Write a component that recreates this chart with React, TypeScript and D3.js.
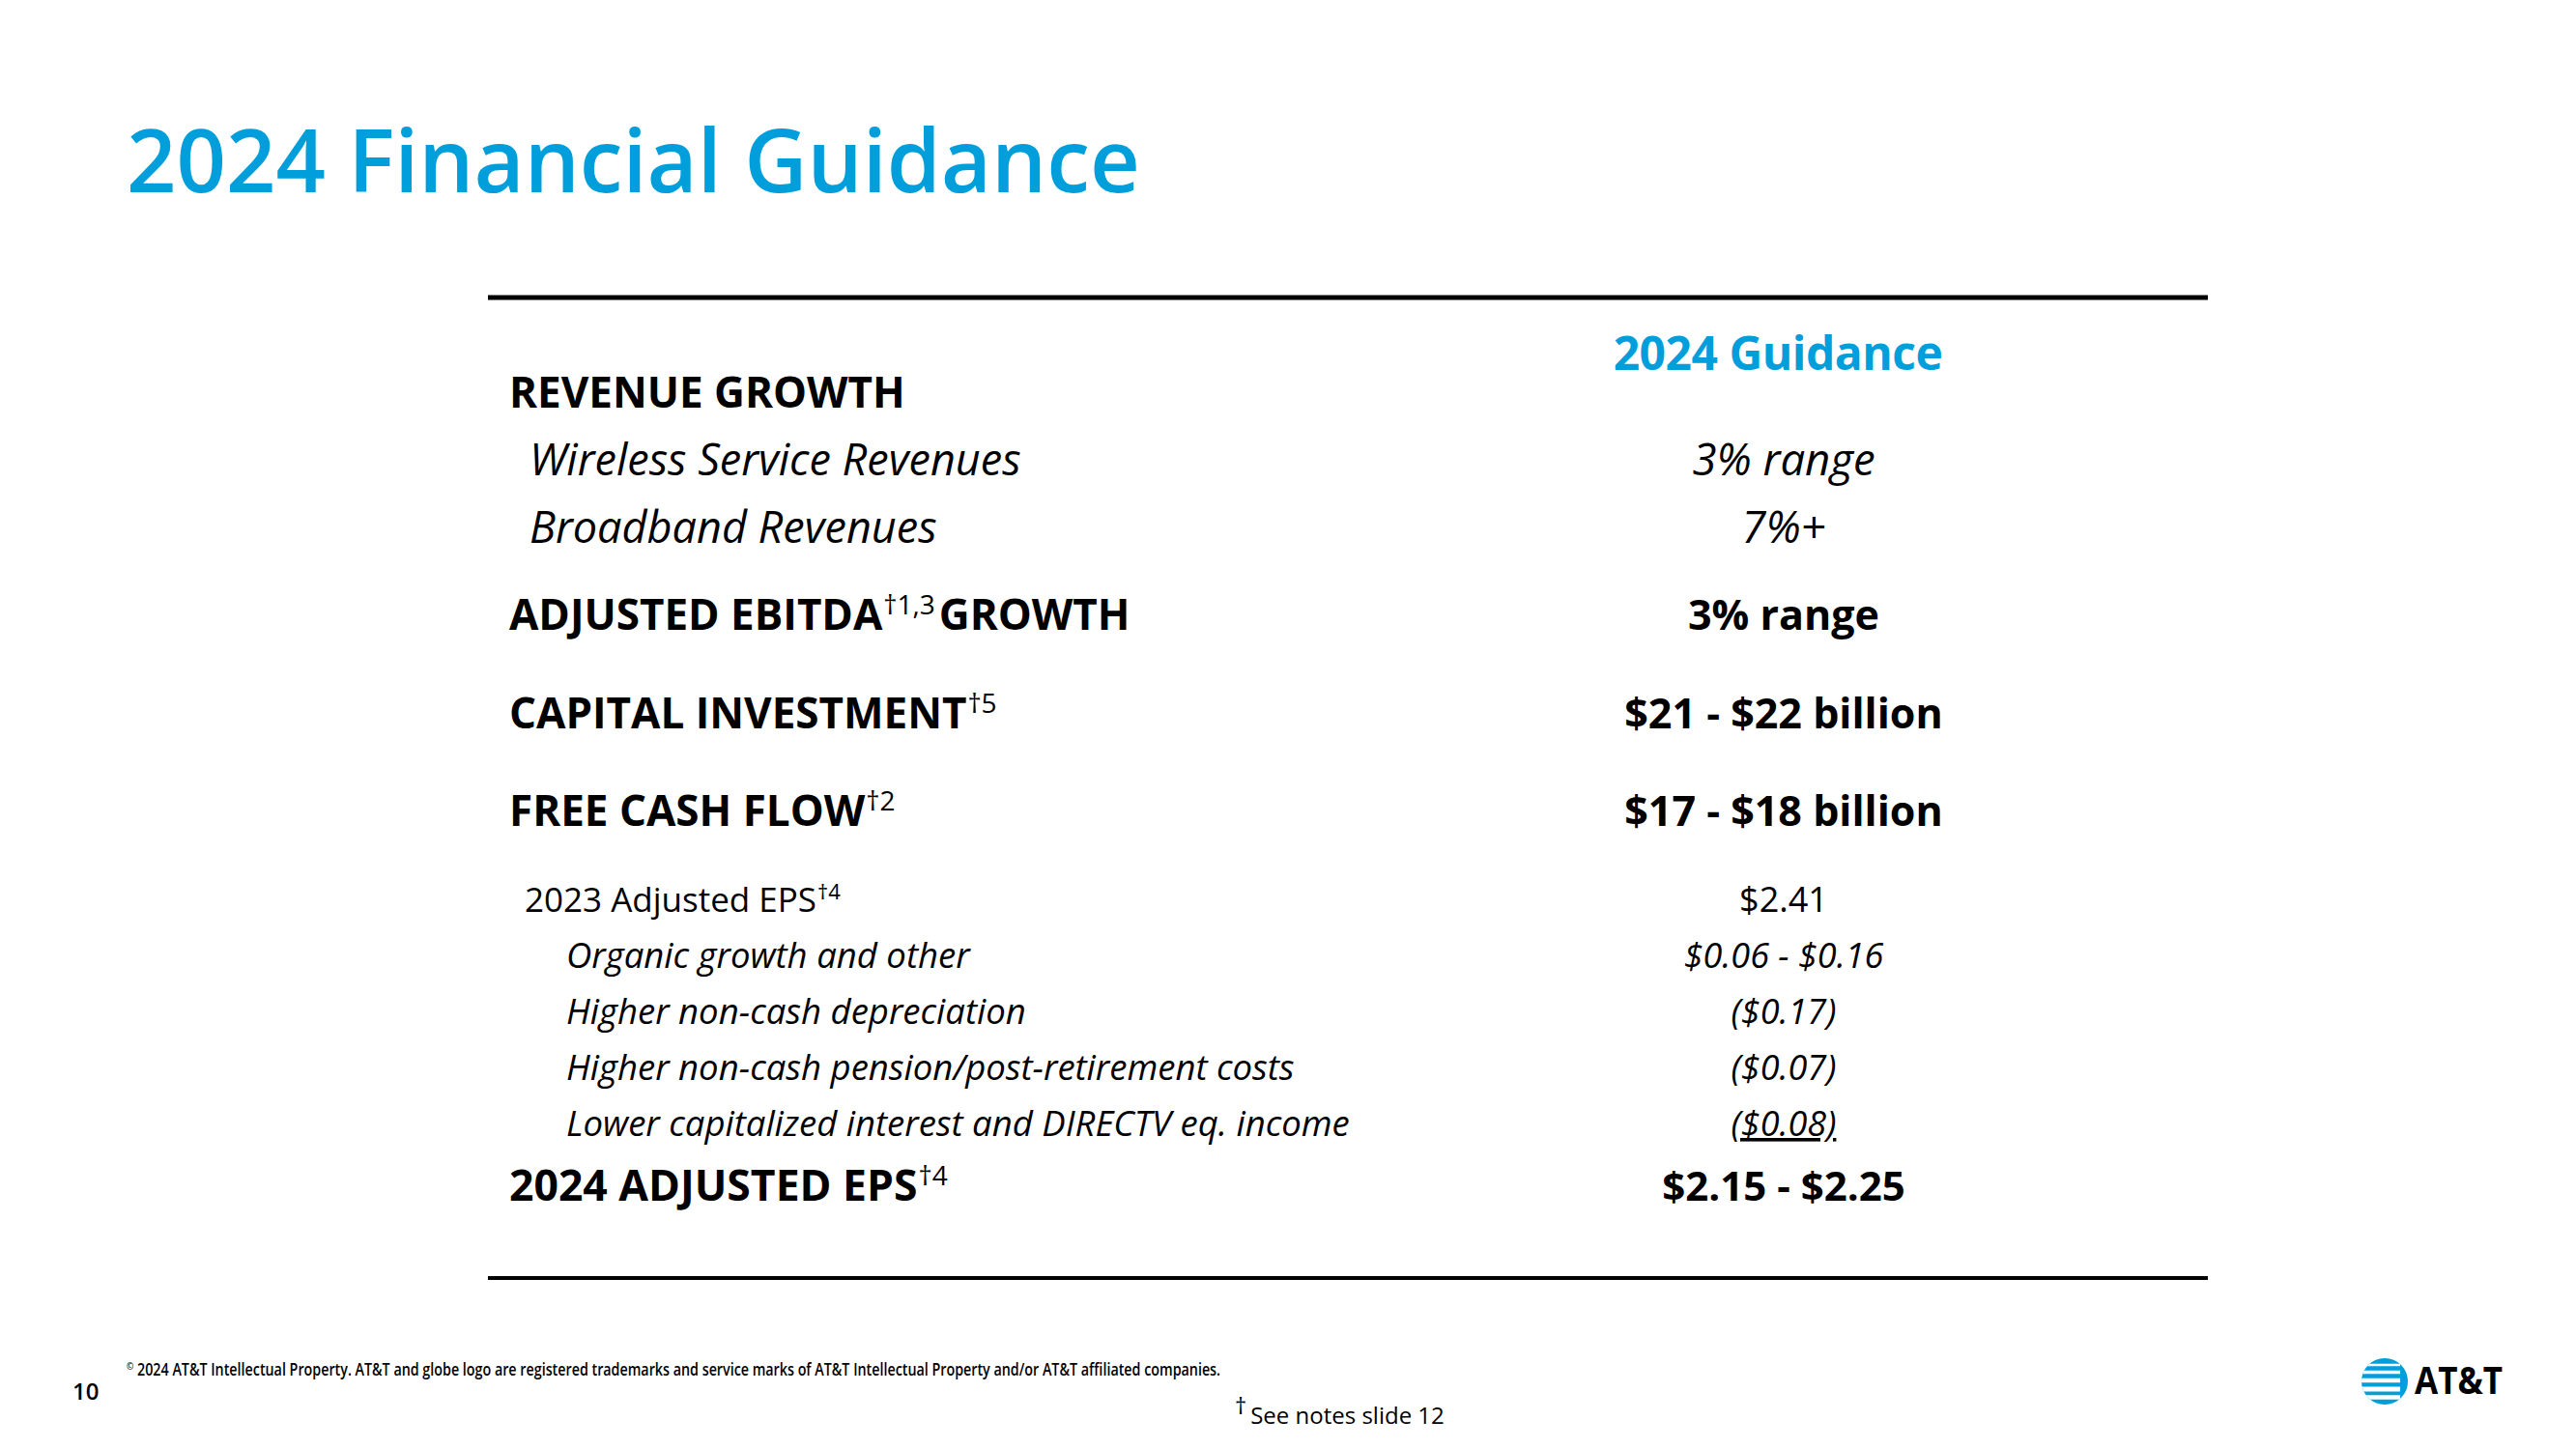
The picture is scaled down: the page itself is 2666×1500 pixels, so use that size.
import React from "react";
import * as d3 from "d3";

// ---------- data ----------
const pageTitle = "2024 Financial Guidance";
const columnHeader = "2024 Guidance";

const rowLabels = [
  "REVENUE GROWTH",
  "Wireless Service Revenues",
  "Broadband Revenues",
  "ADJUSTED EBITDA",
  "CAPITAL INVESTMENT",
  "FREE CASH FLOW",
  "2023 Adjusted EPS",
  "Organic growth and other",
  "Higher non-cash depreciation",
  "Higher non-cash pension/post-retirement costs",
  "Lower capitalized interest and DIRECTV eq. income",
  "2024 ADJUSTED EPS",
];
const rowNotes = ["", "", "", "†1,3", "†5", "†2", "†4", "", "", "", "", "†4"];
const rowSuffixes = ["", "", "", "GROWTH", "", "", "", "", "", "", "", ""];
const rowKinds = [
  "section",
  "sub",
  "sub",
  "section",
  "section",
  "section",
  "epsBase",
  "epsItem",
  "epsItem",
  "epsItem",
  "epsItem",
  "total",
];
const guidanceValues = [
  "",
  "3% range",
  "7%+",
  "3% range",
  "$21 - $22 billion",
  "$17 - $18 billion",
  "$2.41",
  "$0.06 - $0.16",
  "($0.17)",
  "($0.07)",
  "($0.08)",
  "$2.15 - $2.25",
];

const copyrightText =
  " 2024 AT&T Intellectual Property. AT&T and globe logo are registered trademarks and service marks of AT&T Intellectual Property and/or AT&T affiliated companies.";
const notesText = "See notes slide 12";
const pageNumber = "10";
const brandName = "AT&T";

// ---------- styling / layout ----------
const W = 2666;
const H = 1500;
const BLUE = "#009FDB";
const FONT = "'Open Sans', 'Noto Sans', sans-serif";

const kindStyle: Record<
  string,
  { x: number; size: number; weight: number; italic: boolean; vSize: number; vWeight: number }
> = {
  section: { x: 527, size: 44, weight: 700, italic: false, vSize: 43, vWeight: 700 },
  sub: { x: 548, size: 45, weight: 400, italic: true, vSize: 45.5, vWeight: 400 },
  epsBase: { x: 543, size: 35, weight: 400, italic: false, vSize: 36, vWeight: 400 },
  epsItem: { x: 586, size: 36.5, weight: 400, italic: true, vSize: 36, vWeight: 400 },
  total: { x: 527, size: 44.5, weight: 700, italic: false, vSize: 42, vWeight: 700 },
};

function gapBefore(kind: string, prev: string | null): number {
  if (prev === null) return 0;
  if (kind === "sub") return 70;
  if (kind === "section") return prev === "section" ? 101.5 : 90;
  if (kind === "epsBase") return 89;
  if (kind === "epsItem") return 58;
  if (kind === "total") return 67;
  return 60;
}

export default function App() {
  const firstBaseline = 422;
  const gaps = rowKinds.map((k, i) => gapBefore(k, i === 0 ? null : rowKinds[i - 1]));
  const ys = Array.from(d3.cumsum(gaps)).map((g) => firstBaseline + g);

  const valueX = d3.scaleLinear().domain([0, 1]).range([505, 2285]);
  const valueCenter = 1846;
  const ruleTop = 308;
  const ruleBottom = 1323;

  // globe stripes (relative to centre, radius 24)
  const globeR = 24;
  const stripes = [
    { y: -17, h: 2.5 },
    { y: -9.5, h: 3.5 },
    { y: -1, h: 4.5 },
    { y: 8, h: 5 },
    { y: 16.5, h: 4.5 },
  ];

  return (
    <svg
      width={W}
      height={H}
      viewBox={`0 0 ${W} ${H}`}
      style={{ position: "absolute", left: 0, top: 0, background: "#fff" }}
    >
      <rect x={0} y={0} width={W} height={H} fill="#fff" />
      <text x={131} y={199} fontFamily={FONT} fontSize={90} fontWeight={600} fill={BLUE}>
        {pageTitle}
      </text>

      <line x1={valueX(0)} x2={valueX(1)} y1={ruleTop} y2={ruleTop} stroke="#000" strokeWidth={5} />
      <line x1={valueX(0)} x2={valueX(1)} y1={ruleBottom} y2={ruleBottom} stroke="#000" strokeWidth={4} />

      <text
        x={valueCenter - 6}
        y={383}
        textAnchor="middle"
        fontFamily={FONT}
        fontSize={48}
        fontWeight={700}
        fill={BLUE}
        letterSpacing={-0.5}
      >
        {columnHeader}
      </text>

      {rowLabels.map((label, i) => {
        const st = kindStyle[rowKinds[i]];
        const y = ys[i];
        const supSize = Math.round(st.size * 0.64);
        const supShift = Math.round(st.size * 0.36);
        return (
          <text
            key={"l" + i}
            x={st.x}
            y={y}
            fontFamily={FONT}
            fontSize={st.size}
            fontWeight={st.weight}
            fontStyle={st.italic ? "italic" : "normal"}
            fill="#000"
          >
            <tspan>{label}</tspan>
            {rowNotes[i] && (
              <tspan fontSize={supSize} fontWeight={400} dy={-supShift} dx={1}>
                {rowNotes[i]}
              </tspan>
            )}
            {rowSuffixes[i] && (
              <tspan dy={supShift} dx={4}>
                {rowSuffixes[i]}
              </tspan>
            )}
          </text>
        );
      })}

      {guidanceValues.map((v, i) => {
        if (!v) return null;
        const st = kindStyle[rowKinds[i]];
        const underline = rowKinds[i] === "epsItem" && rowKinds[i + 1] === "total";
        return (
          <text
            key={"v" + i}
            x={valueCenter}
            y={ys[i]}
            textAnchor="middle"
            fontFamily={FONT}
            fontSize={st.vSize}
            fontWeight={st.vWeight}
            fontStyle={st.italic ? "italic" : "normal"}
            textDecoration={underline ? "underline" : undefined}
            style={underline ? { textDecoration: "underline" } : undefined}
            fill="#000"
          >
            {v}
          </text>
        );
      })}

      {/* footer */}
      <text x={75} y={1449} fontFamily={FONT} fontSize={24} fontWeight={600} fill="#000">
        {pageNumber}
      </text>
      <text
        x={131}
        y={1424}
        fontFamily={FONT}
        fontSize={18}
        fontWeight={600}
        fill="#000"
        textLength={1132}
        lengthAdjust="spacingAndGlyphs"
      >
        <tspan fontSize={11} dy={-6}>©</tspan>
        <tspan dy={6}>{copyrightText}</tspan>
      </text>
      <text x={1278} y={1474} fontFamily={FONT} fontSize={24} fill="#000">
        <tspan dy={-10}>†</tspan>
        <tspan dy={10} dx={4}>{notesText}</tspan>
      </text>

      {/* logo */}
      <defs>
        <clipPath id="globeClip">
          <circle cx={2468} cy={1430} r={globeR} />
        </clipPath>
      </defs>
      <circle cx={2468} cy={1430} r={globeR} fill={BLUE} />
      <g clipPath="url(#globeClip)">
        {stripes.map((s, i) => (
          <rect
            key={i}
            x={2468 - globeR - 2}
            y={1430 + s.y - s.h / 2}
            width={globeR * 2 - 6}
            height={s.h}
            fill="#fff"
          />
        ))}
      </g>
      <text
        x={2499}
        y={1443}
        fontFamily={FONT}
        fontSize={40}
        fontWeight={700}
        fill="#000"
        textLength={91}
        lengthAdjust="spacingAndGlyphs"
      >
        {brandName}
      </text>
    </svg>
  );
}
